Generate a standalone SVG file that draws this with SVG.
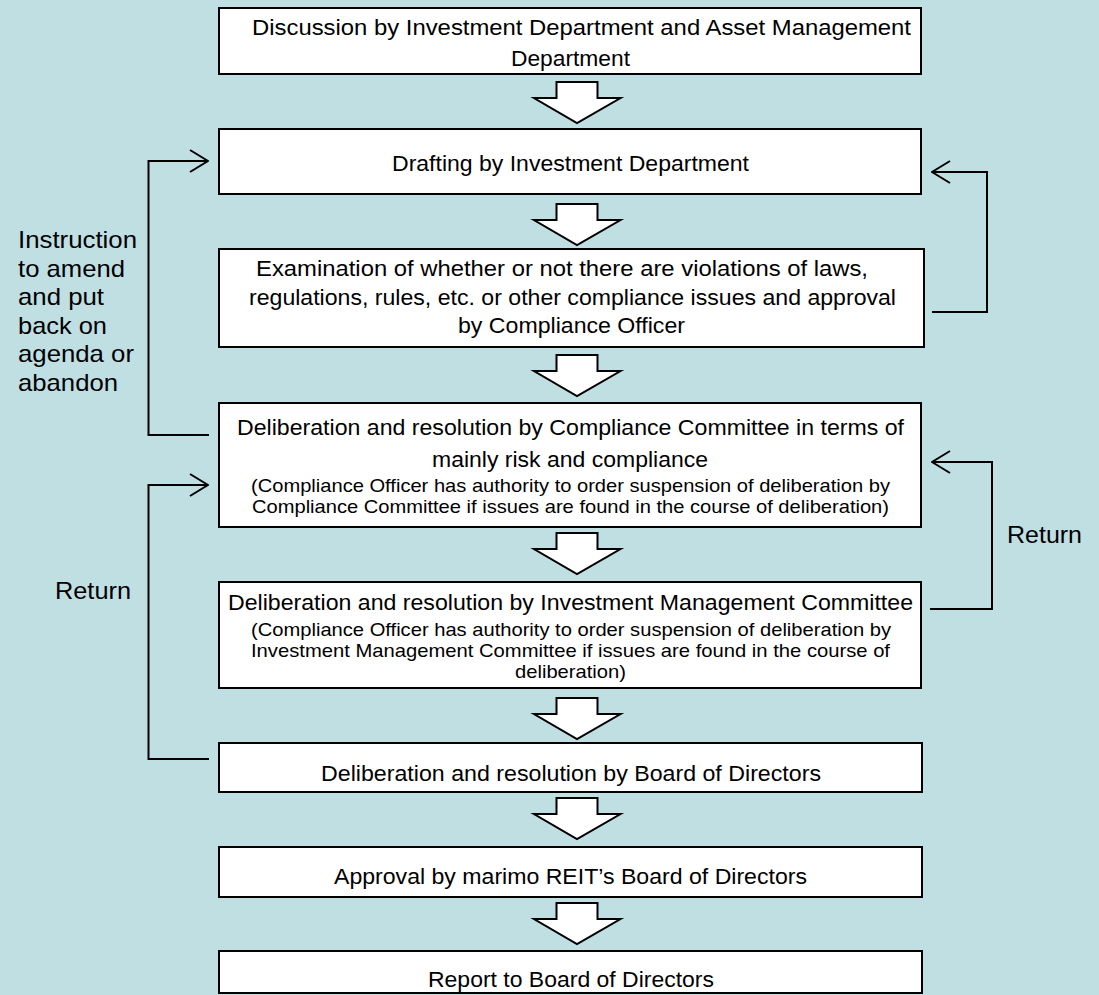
<svg xmlns="http://www.w3.org/2000/svg" width="1099" height="995" viewBox="0 0 1099 995">
<style>
.bg{fill:#C0DFE3}
.box{fill:#fff;stroke:#000;stroke-width:2}
.blk{fill:#fff;stroke:#000;stroke-width:2;stroke-linejoin:miter}
.ln{fill:none;stroke:#000;stroke-width:2}
text{font-family:"Liberation Sans",Arial,sans-serif;fill:#000}
.t{font-size:22.5px}
.s{font-size:18.5px}
.l{font-size:24px}
</style>
<defs>
<marker id="oa" viewBox="0 0 20 24" refX="19" refY="12" markerWidth="20" markerHeight="24" markerUnits="userSpaceOnUse" orient="auto"><path d="M1,1 L19,12 L1,23" fill="none" stroke="#000" stroke-width="2"/></marker>
<path id="ba" class="blk" d="M0,0 H41 V16 H64 L20.5,41 L-22.5,16 H0 Z"/>
</defs>
<rect class="bg" x="0" y="0" width="1099" height="995"/>

<g id="connectors">
<use href="#ba" x="556.5" y="82"/>
<use href="#ba" x="556.5" y="204"/>
<use href="#ba" x="556.5" y="355"/>
<use href="#ba" x="556.5" y="533"/>
<use href="#ba" x="556.5" y="698"/>
<use href="#ba" x="556.5" y="798"/>
<use href="#ba" x="556.5" y="903"/>
<path class="ln" d="M209,435 H148.5 V161 H208" marker-end="url(#oa)"/>
<path class="ln" d="M932,312 H987 V172 H932" marker-end="url(#oa)"/>
<path class="ln" d="M209,759 H148.5 V485 H208" marker-end="url(#oa)"/>
<path class="ln" d="M930,609 H992 V462 H932" marker-end="url(#oa)"/>
</g>

<g id="label-instruction">
<text class="l" x="18" y="248" textLength="119" lengthAdjust="spacingAndGlyphs">Instruction</text>
<text class="l" x="18" y="276.5" textLength="107" lengthAdjust="spacingAndGlyphs">to amend</text>
<text class="l" x="18" y="305" textLength="86" lengthAdjust="spacingAndGlyphs">and put</text>
<text class="l" x="18" y="333.5" textLength="89" lengthAdjust="spacingAndGlyphs">back on</text>
<text class="l" x="18" y="362" textLength="116" lengthAdjust="spacingAndGlyphs">agenda or</text>
<text class="l" x="18" y="390.5" textLength="100" lengthAdjust="spacingAndGlyphs">abandon</text>
</g>
<g id="label-return-left">
<text class="l" x="55" y="599" textLength="76" lengthAdjust="spacingAndGlyphs">Return</text>
</g>
<g id="label-return-right">
<text class="l" x="1007" y="543" textLength="75" lengthAdjust="spacingAndGlyphs">Return</text>
</g>

<g id="node-discussion">
<rect class="box" x="219" y="8" width="702" height="66"/>
<text class="t" x="252" y="35" textLength="659" lengthAdjust="spacingAndGlyphs">Discussion by Investment Department and Asset Management</text>
<text class="t" x="511" y="66" textLength="119" lengthAdjust="spacingAndGlyphs">Department</text>
</g>
<g id="node-drafting">
<rect class="box" x="219" y="129" width="702" height="65"/>
<text class="t" x="392" y="171" textLength="357" lengthAdjust="spacingAndGlyphs">Drafting by Investment Department</text>
</g>
<g id="node-examination">
<rect class="box" x="219" y="249" width="705" height="98"/>
<text class="t" x="256" y="276" textLength="612" lengthAdjust="spacingAndGlyphs">Examination of whether or not there are violations of laws,</text>
<text class="t" x="249" y="304.5" textLength="647" lengthAdjust="spacingAndGlyphs">regulations, rules, etc. or other compliance issues and approval</text>
<text class="t" x="458" y="332.5" textLength="227" lengthAdjust="spacingAndGlyphs">by Compliance Officer</text>
</g>
<g id="node-compliance-committee">
<rect class="box" x="219" y="403" width="702" height="124"/>
<text class="t" x="237" y="435" textLength="667" lengthAdjust="spacingAndGlyphs">Deliberation and resolution by Compliance Committee in terms of</text>
<text class="t" x="432" y="467" textLength="276" lengthAdjust="spacingAndGlyphs">mainly risk and compliance</text>
<text class="s" x="251" y="491.5" textLength="639" lengthAdjust="spacingAndGlyphs">(Compliance Officer has authority to order suspension of deliberation by</text>
<text class="s" x="252" y="513" textLength="637" lengthAdjust="spacingAndGlyphs">Compliance Committee if issues are found in the course of deliberation)</text>
</g>
<g id="node-investment-committee">
<rect class="box" x="219" y="582" width="702" height="106"/>
<text class="t" x="228" y="610" textLength="685" lengthAdjust="spacingAndGlyphs">Deliberation and resolution by Investment Management Committee</text>
<text class="s" x="251" y="636" textLength="640" lengthAdjust="spacingAndGlyphs">(Compliance Officer has authority to order suspension of deliberation by</text>
<text class="s" x="251" y="657" textLength="639" lengthAdjust="spacingAndGlyphs">Investment Management Committee if issues are found in the course of</text>
<text class="s" x="515" y="678" textLength="111" lengthAdjust="spacingAndGlyphs">deliberation)</text>
</g>
<g id="node-board">
<rect class="box" x="219" y="743" width="703" height="49"/>
<text class="t" x="321" y="780.5" textLength="500" lengthAdjust="spacingAndGlyphs">Deliberation and resolution by Board of Directors</text>
</g>
<g id="node-approval">
<rect class="box" x="219" y="847" width="703" height="50"/>
<text class="t" x="334" y="884" textLength="473" lengthAdjust="spacingAndGlyphs">Approval by marimo REIT’s Board of Directors</text>
</g>
<g id="node-report">
<rect class="box" x="219" y="951" width="703" height="42"/>
<text class="t" x="428" y="986.5" textLength="286" lengthAdjust="spacingAndGlyphs">Report to Board of Directors</text>
</g>
</svg>
